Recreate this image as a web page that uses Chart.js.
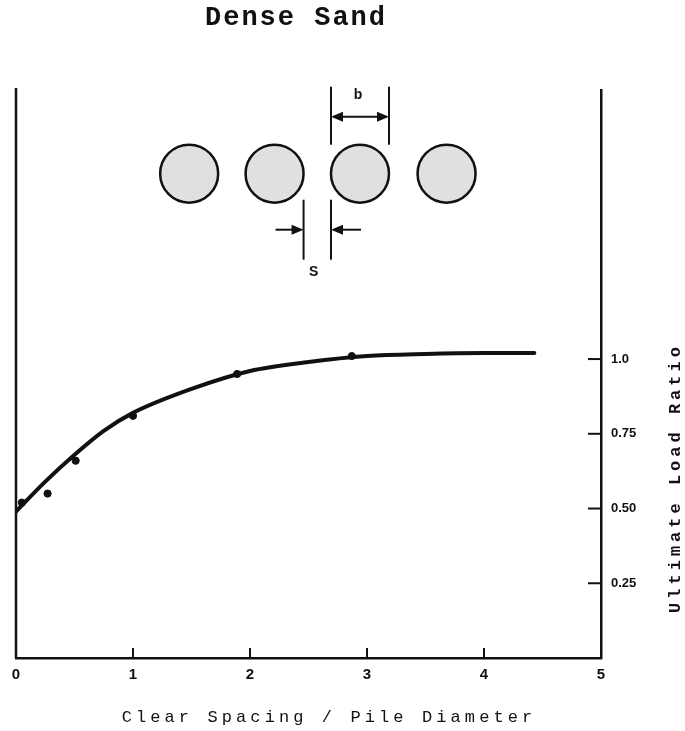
<!DOCTYPE html>
<html>
<head>
<meta charset="utf-8">
<title>Dense Sand</title>
<script src="https://cdn.jsdelivr.net/npm/chart.js@4.4.1/dist/chart.umd.min.js"></script>
<style>
  body { margin: 0; background: #fff; }
  canvas { display: block; }
</style>
</head>
<body>
<canvas id="myChart" width="685" height="731"></canvas>
<script>
// ***** data *****
const pointSpacing = [0.05, 0.27, 0.51, 1.0, 1.89, 2.87]
const pointLoad = [0.52, 0.55, 0.66, 0.81, 0.95, 1.01]
const curveSpacing = [0, 0.25, 0.5, 0.75, 1.0, 1.5, 2.0, 2.5, 3.0, 3.5, 4.0, 4.43]
const curveLoad = [0.49, 0.59, 0.68, 0.76, 0.82, 0.90, 0.96, 0.99, 1.01, 1.017, 1.02, 1.02]
const xTicks = [0, 1, 2, 3, 4, 5]
const yTicks = [0.25, 0.5, 0.75, 1.0]
const yTickLabels = ["0.25", "0.50", "0.75", "1.0"]

// pile row sketch, placed in axis units
const pileCentres = [1.48, 2.21, 2.94, 3.68]
const pileRow = 1.62
const pileRadius = 29

const ink = "#111"
const mono = "'Liberation Mono', 'DejaVu Sans Mono', monospace"
const sans = "'Liberation Sans', Arial, sans-serif"

// ***** helpers *****
const arrowHead = (ctx, x, y, dir) => {
  ctx.beginPath()
  ctx.moveTo(x, y)
  ctx.lineTo(x - dir * 12, y - 5)
  ctx.lineTo(x - dir * 12, y + 5)
  ctx.closePath()
  ctx.fill()
}

const line = (ctx, x1, y1, x2, y2) => {
  ctx.beginPath()
  ctx.moveTo(x1, y1)
  ctx.lineTo(x2, y2)
  ctx.stroke()
}

// ***** sketch of the piles *****
const sketchPlugin = {
  id: "pileSketch",
  afterDraw(chart) {
    const { ctx, scales: { x, y } } = chart
    const r = pileRadius
    const cy = y.getPixelForValue(pileRow)
    const cxs = pileCentres.map(v => x.getPixelForValue(v))

    ctx.save()
    ctx.strokeStyle = ink
    ctx.fillStyle = ink
    ctx.lineWidth = 2.5
    cxs.forEach(cx => {
      ctx.beginPath()
      ctx.arc(cx, cy, r, 0, Math.PI * 2)
      ctx.fillStyle = "#e0e0e0"
      ctx.fill()
      ctx.stroke()
    })
    ctx.fillStyle = ink

    // b = pile diameter
    const bL = cxs[2] - r
    const bR = cxs[2] + r
    ctx.lineWidth = 2
    line(ctx, bL, cy - r - 58, bL, cy - r)
    line(ctx, bR, cy - r - 58, bR, cy - r)
    line(ctx, bL + 8, cy - 57, bR - 8, cy - 57)
    arrowHead(ctx, bL, cy - 57, -1)
    arrowHead(ctx, bR, cy - 57, 1)

    // s = clear spacing
    const sL = cxs[1] + r
    const sR = cxs[2] - r
    line(ctx, sL, cy + 26, sL, cy + 86)
    line(ctx, sR, cy + 26, sR, cy + 86)
    line(ctx, sL - 28, cy + 56, sL - 8, cy + 56)
    line(ctx, sR + 30, cy + 56, sR + 8, cy + 56)
    arrowHead(ctx, sL, cy + 56, 1)
    arrowHead(ctx, sR, cy + 56, -1)

    ctx.font = "bold 14px " + sans
    ctx.textAlign = "center"
    ctx.textBaseline = "middle"
    ctx.fillText("b", (bL + bR) / 2 - 2, cy - r - 50)
    ctx.fillText("S", sL + 10, cy + 98)
    ctx.restore()
  }
}

// ***** frame, inward ticks and titles *****
const framePlugin = {
  id: "frame",
  afterDraw(chart) {
    const { ctx, chartArea: area, scales: { x, y } } = chart
    ctx.save()
    ctx.strokeStyle = ink
    ctx.fillStyle = ink
    ctx.lineWidth = 2.5
    line(ctx, area.left, area.top - 2, area.left, area.bottom)

    ctx.lineWidth = 2
    x.ticks.forEach(t => {
      if (t.value <= x.min || t.value >= x.max) return
      const px = x.getPixelForValue(t.value)
      line(ctx, px, area.bottom, px, area.bottom - 10)
    })
    y.ticks.forEach(t => {
      const py = y.getPixelForValue(t.value)
      line(ctx, area.right + 1, py, area.right - 13, py)
    })

    ctx.textBaseline = "middle"
    ctx.textAlign = "center"
    ctx.font = "bold 27px " + mono
    ctx.letterSpacing = "2px"
    ctx.fillText("Dense Sand", 296, 18)

    ctx.font = "17px " + mono
    ctx.letterSpacing = "4.1px"
    ctx.fillText("Clear Spacing / Pile Diameter", 329, 717)

    ctx.translate(676, 478)
    ctx.rotate(-Math.PI / 2)
    ctx.font = "bold 17px " + mono
    ctx.letterSpacing = "4px"
    ctx.fillText("Ultimate Load Ratio", 0, 0)
    ctx.restore()
  }
}

// ***** chart *****
const ctx = document.getElementById("myChart").getContext("2d")
const myChart = new Chart(ctx, {
  data: {
    datasets: [
      {
        type: "line",
        label: "fit",
        data: curveSpacing.map((v, i) => ({ x: v, y: curveLoad[i] })),
        borderColor: ink,
        borderWidth: 4,
        borderCapStyle: "round",
        cubicInterpolationMode: "monotone",
        pointRadius: 0,
        fill: false
      },
      {
        type: "scatter",
        label: "tests",
        data: pointSpacing.map((v, i) => ({ x: v, y: pointLoad[i] })),
        backgroundColor: ink,
        borderColor: ink,
        pointRadius: 3.6
      }
    ]
  },
  options: {
    responsive: false,
    animation: false,
    layout: { padding: { left: 16, top: 90 } },
    plugins: {
      legend: { display: false },
      tooltip: { enabled: false }
    },
    scales: {
      x: {
        type: "linear",
        min: 0,
        max: 5,
        afterBuildTicks: scale => { scale.ticks = xTicks.map(v => ({ value: v })) },
        afterFit: scale => { scale.height = 73 },
        grid: { display: false },
        border: { display: true, color: ink, width: 2.5 },
        ticks: {
          color: ink,
          padding: 0,
          maxRotation: 0,
          font: { family: sans, size: 15, weight: "bold" }
        }
      },
      y: {
        type: "linear",
        position: "right",
        min: 0,
        max: 1.9,
        afterBuildTicks: scale => { scale.ticks = yTicks.map(v => ({ value: v })) },
        afterFit: scale => { scale.width = 84 },
        grid: { display: false },
        border: { display: true, color: ink, width: 2.5 },
        ticks: {
          color: ink,
          padding: 2,
          callback: value => yTickLabels[yTicks.indexOf(value)],
          font: { family: sans, size: 13, weight: "bold" }
        }
      }
    }
  },
  plugins: [framePlugin, sketchPlugin]
})
</script>
</body>
</html>
